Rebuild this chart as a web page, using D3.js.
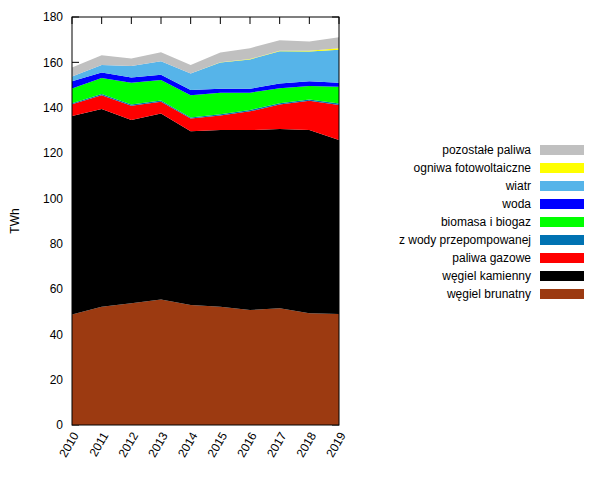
<!DOCTYPE html>
<html>
<head>
<meta charset="utf-8">
<script src="https://cdn.jsdelivr.net/npm/d3@7"></script>
<style>
  body { margin: 0; background: #fff; }
  svg text { font-family: "Liberation Sans", Arial, sans-serif; font-size: 12px; fill: #000; }
</style>
</head>
<body>
<div id="chart"></div>
<script>
// production by source, TWh
const years = [2010, 2011, 2012, 2013, 2014, 2015, 2016, 2017, 2018, 2019]
const lignite = [48.8, 52.2, 53.7, 55.4, 52.9, 52.2, 50.7, 51.5, 49.3, 49.0]
const hardCoal = [87.5, 87.2, 80.9, 82.0, 76.7, 77.9, 79.4, 79.1, 80.9, 76.7]
const gas = [5.2, 6.1, 6.2, 5.2, 5.6, 6.4, 8.3, 10.8, 12.8, 15.5]
const pumped = [0.5, 0.5, 0.6, 0.6, 0.5, 0.6, 0.6, 0.6, 0.6, 0.6]
const biomass = [6.5, 7.1, 9.6, 9.0, 9.8, 9.5, 7.6, 6.6, 6.0, 7.4]
const hydro = [3.2, 2.4, 2.3, 2.3, 2.3, 1.8, 1.7, 2.1, 2.0, 1.8]
const wind = [2.0, 3.3, 5.1, 6.0, 7.3, 11.5, 13.0, 14.2, 13.2, 14.5]
const solar = [0, 0, 0, 0, 0, 0.1, 0.15, 0.2, 0.35, 0.7]
const other = [4.0, 4.3, 3.3, 3.9, 3.7, 4.3, 4.8, 4.6, 4.0, 4.9]

// bottom to top
const keys = ['lignite', 'hardCoal', 'gas', 'pumped', 'biomass', 'hydro', 'wind', 'solar', 'other']
const labels = {
  lignite: 'węgiel brunatny',
  hardCoal: 'węgiel kamienny',
  gas: 'paliwa gazowe',
  pumped: 'z wody przepompowanej',
  biomass: 'biomasa i biogaz',
  hydro: 'woda',
  wind: 'wiatr',
  solar: 'ogniwa fotowoltaiczne',
  other: 'pozostałe paliwa'
}
const colors = {
  lignite: '#9c3a11',
  hardCoal: '#000000',
  gas: '#ff0000',
  pumped: '#0072b2',
  biomass: '#00ff00',
  hydro: '#0000ff',
  wind: '#56b4e9',
  solar: '#ffff00',
  other: '#c0c0c0'
}
const series = { lignite, hardCoal, gas, pumped, biomass, hydro, wind, solar, other }

const table = years.map((y, i) => {
  const row = { year: y }
  keys.forEach(k => { row[k] = series[k][i] })
  return row
})

const width = 600
const height = 480
const plot = { left: 72, right: 339, top: 17, bottom: 425 }

const svg = d3.select('#chart')
  .append('svg')
  .attr('width', width)
  .attr('height', height)

const x = d3.scaleLinear()
  .domain([2010, 2019])
  .range([plot.left, plot.right])

const y = d3.scaleLinear()
  .domain([0, 180])
  .range([plot.bottom, plot.top])

const stack = d3.stack().keys(keys)
const layers = stack(table)

// inward ticks (mirrored), under the areas
const tickLen = 7
const yTicks = d3.range(0, 181, 20)
svg.append('g')
  .selectAll('line')
  .data(yTicks)
  .join('line')
  .attr('x1', plot.left).attr('x2', plot.left + tickLen)
  .attr('y1', d => y(d)).attr('y2', d => y(d))
  .attr('stroke', '#000')
svg.append('g')
  .selectAll('line')
  .data(yTicks)
  .join('line')
  .attr('x1', plot.right).attr('x2', plot.right - tickLen)
  .attr('y1', d => y(d)).attr('y2', d => y(d))
  .attr('stroke', '#000')
svg.append('g')
  .selectAll('line')
  .data(years)
  .join('line')
  .attr('x1', d => x(d)).attr('x2', d => x(d))
  .attr('y1', plot.top).attr('y2', plot.top + tickLen)
  .attr('stroke', '#000')

const area = d3.area()
  .x(d => x(d.data.year))
  .y0(d => y(d[0]))
  .y1(d => y(d[1]))

svg.append('g')
  .selectAll('path')
  .data(layers)
  .join('path')
  .attr('d', area)
  .attr('fill', d => colors[d.key])

// frame
svg.append('rect')
  .attr('x', plot.left)
  .attr('y', plot.top)
  .attr('width', plot.right - plot.left)
  .attr('height', plot.bottom - plot.top)
  .attr('fill', 'none')
  .attr('stroke', '#000')

// y axis labels
const yAxis = d3.axisLeft(y)
  .tickValues(yTicks)
  .tickSize(0)
  .tickPadding(9)
svg.append('g')
  .attr('class', 'axis y-axis')
  .attr('transform', `translate(${plot.left},0)`)
  .call(yAxis)
  .call(g => g.select('.domain').remove())
  .selectAll('text')
  .style('font-size', '12px')
  .attr('fill', '#000')

// x axis labels, rotated
const xAxis = d3.axisBottom(x)
  .tickValues(years)
  .tickFormat(d3.format('d'))
  .tickSize(0)
svg.append('g')
  .attr('class', 'axis x-axis')
  .attr('transform', `translate(0,${plot.bottom})`)
  .call(xAxis)
  .call(g => g.select('.domain').remove())
  .selectAll('text')
  .style('font-size', '12px')
  .attr('fill', '#000')
  .attr('text-anchor', 'end')
  .attr('dy', '0.35em')
  .attr('transform', 'translate(3,8) rotate(-60)')
  .attr('y', 0)

svg.append('text')
  .attr('transform', 'translate(19,221) rotate(-90)')
  .attr('text-anchor', 'middle')
  .text('TWh')

// legend, top entry first
const legend = svg.append('g')
  .selectAll('g')
  .data(keys.slice().reverse())
  .join('g')
  .attr('transform', (d, i) => `translate(0,${150 + i * 18})`)

legend.append('text')
  .attr('x', 531)
  .attr('dy', '0.35em')
  .attr('text-anchor', 'end')
  .text(d => labels[d])

legend.append('rect')
  .attr('x', 540)
  .attr('y', -5)
  .attr('width', 44)
  .attr('height', 10)
  .attr('fill', d => colors[d])
</script>
</body>
</html>
